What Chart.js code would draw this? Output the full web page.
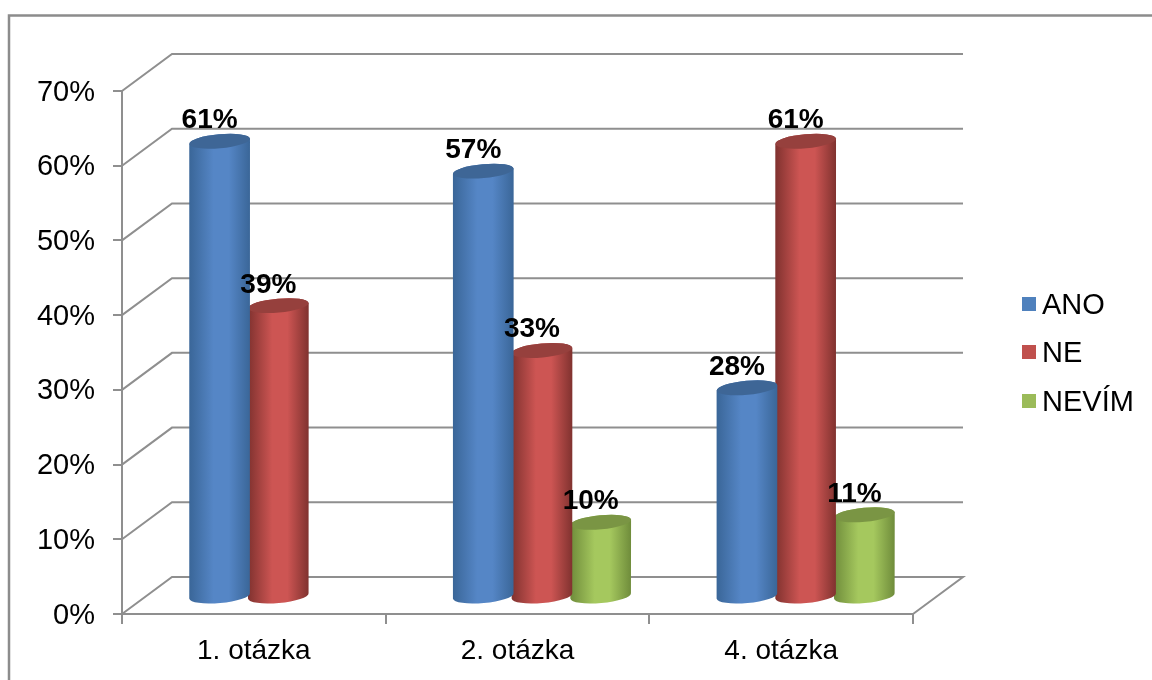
<!DOCTYPE html>
<html>
<head>
<meta charset="utf-8">
<title>Graf</title>
<style>
html,body{margin:0;padding:0;background:#fff;}
canvas{display:block;filter:blur(0.4px);}
</style>
<script src="https://cdn.jsdelivr.net/npm/chart.js@4/dist/chart.umd.min.js"></script>
</head>
<body>
<canvas id="graf" width="1152" height="680"></canvas>
<script>
var categories=['1. otázka','2. otázka','4. otázka'];
var seriesNames=['ANO','NE','NEVÍM'];
var ano=[61,57,28];
var ne=[39,33,61];
var nevim=[null,10,11];
var yTicks=[0,10,20,30,40,50,60,70];

var fill=['#4f81bd','#c0504d','#9bbb59'];
var mid=['#5586c6','#cd5553','#a5c85e'];
var edge=['#3a6698','#80322f','#6f8c3b'];
var cap=['#3e6696','#96403d','#7a9544'];

var gridcolor='#8f8f8f';
var fontname='"Liberation Sans", Arial, sans-serif';

// bars sit in the middle of the 3d depth, walls at the back of it
var depthx=24.5, depthy=-17;
var wallx=50, wally=-37;

function cylinder(ctx,bar,i){
    var rx=bar.width/2+1, ry=7, tilt=-0.09;
    var cx=bar.x+depthx;
    var top=bar.y+depthy;
    var bottom=bar.base+depthy;
    var dy=Math.sin(tilt)*rx;
    var grad=ctx.createLinearGradient(cx-rx,0,cx+rx,0);
    grad.addColorStop(0,edge[i]);
    grad.addColorStop(0.4,mid[i]);
    grad.addColorStop(0.65,mid[i]);
    grad.addColorStop(1,edge[i]);
    ctx.save();
    ctx.beginPath();
    ctx.moveTo(cx-rx,top-dy);
    ctx.lineTo(cx-rx,bottom-dy);
    ctx.ellipse(cx,bottom,rx,ry,tilt,Math.PI,0,true);
    ctx.lineTo(cx+rx,top+dy);
    ctx.ellipse(cx,top,rx,ry,tilt,0,Math.PI,true);
    ctx.closePath();
    ctx.fillStyle=grad;
    ctx.fill();
    ctx.beginPath();
    ctx.ellipse(cx,top,rx,ry,tilt,0,Math.PI*2);
    ctx.fillStyle=cap[i];
    ctx.fill();
    ctx.restore();
}

var cylinders={
    id:'cylinders',
    beforeDraw:function(chart){
        // outer frame of the pasted chart, runs off the right and bottom edge
        var ctx=chart.ctx;
        ctx.save();
        ctx.strokeStyle='#8c8c8c';
        ctx.lineWidth=2.5;
        ctx.beginPath();
        ctx.moveTo(9,680);
        ctx.lineTo(9,15.5);
        ctx.lineTo(1152,15.5);
        ctx.stroke();
        ctx.restore();
    },
    beforeDatasetsDraw:function(chart){
        var ctx=chart.ctx, area=chart.chartArea, y=chart.scales.y;
        ctx.save();
        ctx.strokeStyle=gridcolor;
        ctx.lineWidth=2;
        yTicks.forEach(function(t){
            var py=y.getPixelForValue(t);
            ctx.beginPath();
            ctx.moveTo(area.left,py);
            ctx.lineTo(area.left+wallx,py+wally);
            ctx.lineTo(area.right+wallx,py+wally);
            if(t===0){
                ctx.lineTo(area.right,py);
            }
            ctx.stroke();
        });
        ctx.restore();
    },
    beforeDatasetDraw:function(chart,args){
        var ctx=chart.ctx;
        var values=chart.data.datasets[args.index].data;
        args.meta.data.forEach(function(bar,j){
            if(values[j]!==null){
                cylinder(ctx,bar,args.index);
            }
        });
        return false;
    },
    afterDatasetsDraw:function(chart){
        var ctx=chart.ctx;
        ctx.save();
        ctx.font='bold 28px '+fontname;
        ctx.fillStyle='#000';
        ctx.textAlign='center';
        ctx.textBaseline='alphabetic';
        chart.data.datasets.forEach(function(ds,i){
            chart.getDatasetMeta(i).data.forEach(function(bar,j){
                if(ds.data[j]===null){return;}
                ctx.fillText(ds.data[j]+'%',bar.x+depthx-10,bar.y+depthy-13);
            });
        });
        ctx.restore();
        // legend
        var ly=[304,352,401];
        ctx.save();
        ctx.font='29px '+fontname;
        ctx.textBaseline='middle';
        seriesNames.forEach(function(name,i){
            ctx.fillStyle=fill[i];
            ctx.fillRect(1022,ly[i]-7,14,14);
            ctx.fillStyle='#000';
            ctx.fillText(name,1042,ly[i]+2);
        });
        ctx.restore();
    }
};

var mychart=new Chart(document.getElementById('graf').getContext('2d'),{
    type:'bar',
    data:{
        labels:categories,
        datasets:[
            {label:seriesNames[0],data:ano,backgroundColor:fill[0]},
            {label:seriesNames[1],data:ne,backgroundColor:fill[1]},
            {label:seriesNames[2],data:nevim,backgroundColor:fill[2]}
        ]
    },
    plugins:[cylinders],
    options:{
        responsive:false,
        animation:false,
        devicePixelRatio:1,
        layout:{padding:{left:0,top:91,right:239,bottom:0}},
        datasets:{bar:{categoryPercentage:0.668,barPercentage:1}},
        plugins:{legend:{display:false},tooltip:{enabled:false},title:{display:false}},
        scales:{
            x:{
                afterFit:function(scale){scale.height=66;},
                border:{color:gridcolor,width:2},
                grid:{drawOnChartArea:false,color:gridcolor,lineWidth:2,tickLength:10},
                ticks:{color:'#000',padding:10,maxRotation:0,font:{family:fontname,size:28}}
            },
            y:{
                min:0,
                max:70,
                afterFit:function(scale){scale.width=122;},
                border:{color:gridcolor,width:2},
                grid:{drawOnChartArea:false,color:gridcolor,lineWidth:2,tickLength:9},
                ticks:{
                    stepSize:10,
                    color:'#000',
                    padding:18,
                    labelOffset:1.5,
                    font:{family:fontname,size:29},
                    callback:function(v){return v+'%';}
                }
            }
        }
    }
});
</script>
</body>
</html>
